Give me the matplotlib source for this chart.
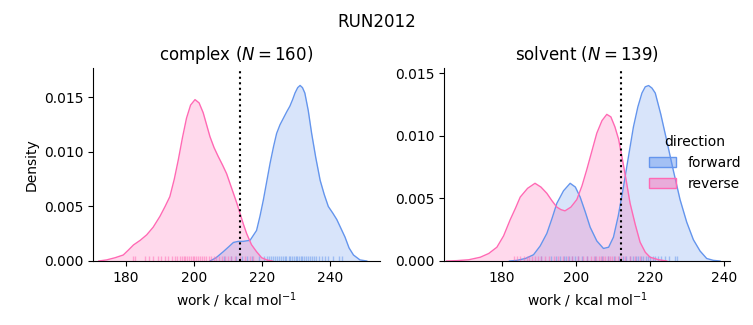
import matplotlib
matplotlib.use("Agg")
import matplotlib.pyplot as plt
from matplotlib.patches import Patch
from matplotlib.colors import to_rgba
from matplotlib.transforms import blended_transform_factory

# ---- data ----
title = "RUN2012"
phases = ["complex", "solvent"]
n_values = [160, 139]
dG_lines = [213.5, 212.2]

# density curves (work, density)
cx_fwd_x = [204.7, 206.5, 208.6, 210.2, 211.6, 213.0, 214.5, 216.5, 218.4, 219.4, 220.4, 221.4, 222.4, 223.4, 224.3, 225.3,
            226.3, 227.3, 228.2, 229.0, 229.7, 230.5, 231.2, 231.9, 232.6, 233.6, 234.6, 235.8, 237.1, 238.3, 239.5, 240.8,
            242.0, 243.2, 244.4, 245.6, 246.9, 248.8, 250.8]
cx_fwd_y = [0.0, 0.0003, 0.00085, 0.0013, 0.0017, 0.0018, 0.0018, 0.0019, 0.0028, 0.0041, 0.0056, 0.0073, 0.0090, 0.0105, 0.0117, 0.0125,
            0.0131, 0.0137, 0.0142, 0.0148, 0.0154, 0.0159, 0.0161, 0.0159, 0.0154, 0.0138, 0.0117, 0.0095, 0.0074, 0.0061, 0.0050, 0.0044,
            0.0038, 0.0030, 0.0022, 0.0012, 0.00055, 0.0001, 0.0]
cx_rev_x = [172.0, 174.3, 176.8, 179.2, 180.7, 182.2, 184.2, 186.1, 188.0, 190.0, 191.5, 192.9, 194.2, 195.4, 196.6, 197.8, 199.0,
            200.3, 201.5, 202.7, 203.7, 204.7, 205.9, 207.1, 208.4, 209.6, 210.6, 211.6, 212.6, 213.5, 214.5, 215.5, 216.9,
            218.4, 219.9, 221.4, 223.0]
cx_rev_y = [0.0, 0.0001, 0.0003, 0.00055, 0.0010, 0.00147, 0.0019, 0.0024, 0.0031, 0.0041, 0.0050, 0.0059, 0.0075, 0.0093, 0.0113, 0.0131, 0.0143,
            0.0148, 0.0145, 0.0136, 0.0125, 0.0114, 0.0104, 0.0096, 0.0088, 0.0080, 0.0071, 0.0062, 0.0053, 0.0044, 0.0034, 0.0025, 0.0015,
            0.00085, 0.0003, 0.0001, 0.0]
sv_fwd_x = [182.0, 184.0, 186.3, 188.5, 190.3, 192.1, 193.5, 194.8, 196.6, 198.4, 199.8, 201.1, 202.5, 203.8, 205.6, 207.4, 208.8,
            210.1, 211.4, 212.8, 214.2, 215.5, 216.7, 217.8, 218.7, 219.6, 220.5, 221.4, 222.9, 224.5, 226.3, 228.1, 229.9,
            231.7, 233.5, 235.3, 237.1, 238.9]
sv_fwd_y = [0.0, 0.00005, 0.0002, 0.0005, 0.0012, 0.0022, 0.0034, 0.0046, 0.0056, 0.0062, 0.0059, 0.0051, 0.0039, 0.0027, 0.0016, 0.0010, 0.0011,
            0.0019, 0.0036, 0.0059, 0.0084, 0.0107, 0.0123, 0.0134, 0.0139, 0.0140, 0.0138, 0.0134, 0.0117, 0.0096, 0.0072, 0.0049, 0.0031,
            0.0017, 0.0008, 0.0002, 0.00005, 0.0]
sv_rev_x = [165.0, 167.8, 171.0, 174.1, 176.4, 178.6, 180.4, 182.2, 183.6, 184.9, 186.9, 188.9, 190.5, 192.1, 193.5, 194.8, 195.9,
            197.0, 198.6, 200.2, 201.6, 202.9, 204.3, 205.6, 207.0, 208.3, 209.4, 210.5, 211.5, 212.4, 213.5, 214.6, 216.0,
            217.3, 218.7, 220.0, 222.3, 224.5]
sv_rev_y = [0.0, 0.00003, 0.0001, 0.0003, 0.0006, 0.0011, 0.0020, 0.0033, 0.0042, 0.0051, 0.0058, 0.0062, 0.0059, 0.0054, 0.0048, 0.0043, 0.0041,
            0.0040, 0.0043, 0.0049, 0.0060, 0.0073, 0.0088, 0.0102, 0.0112, 0.0117, 0.0115, 0.0107, 0.0097, 0.0083, 0.0065, 0.0046, 0.0029,
            0.0015, 0.0007, 0.0003, 0.0001, 0.0]

# rug positions (estimated)
cx_fwd_rug = [208.8, 211.0, 212.3, 214.0, 215.5, 217.2, 219.0, 220.6, 221.4, 222.0, 222.6, 223.1, 223.8, 224.4, 225.0, 225.6,
              226.1, 226.7, 227.2, 227.8, 228.3, 228.9, 229.4, 229.9, 230.4, 230.9, 231.4, 231.9, 232.3, 232.8, 233.4, 234.0,
              234.6, 235.3, 236.0, 236.7, 237.5, 238.4, 239.5, 241.0, 242.5, 243.4]
cx_rev_rug = [182.0, 182.6, 185.6, 186.8, 188.0, 189.3, 190.2, 191.4, 192.5, 193.6, 194.4, 195.1, 195.8, 196.4, 197.0, 197.5,
              198.0, 198.6, 199.1, 199.6, 200.1, 200.6, 201.1, 201.7, 202.3, 202.9, 203.6, 204.3, 205.0, 205.8, 206.6, 207.4,
              208.2, 209.1, 210.0, 210.8, 212.0, 213.6, 215.1, 216.4, 217.4]
sv_fwd_rug = [190.5, 193.2, 194.6, 195.7, 196.6, 197.4, 198.1, 198.9, 199.7, 200.6, 201.7, 203.0, 205.2, 207.0, 208.6, 210.3,
              211.5, 212.6, 213.6, 214.5, 215.3, 216.1, 216.8, 217.5, 218.2, 218.8, 219.4, 220.0, 220.7, 221.4, 222.2, 223.0,
              224.0, 225.0, 226.6, 227.4]
sv_rev_rug = [183.1, 184.0, 184.9, 185.8, 186.6, 187.3, 188.1, 188.8, 189.6, 190.5, 191.5, 192.6, 193.9, 195.2, 196.5, 197.8,
              199.0, 200.5, 201.8, 203.0, 204.0, 204.8, 205.5, 206.1, 206.7, 207.3, 207.9, 208.5, 209.1, 209.7, 210.4, 211.2,
              212.2, 213.3, 214.6, 216.0, 217.3]

x_limits = [(170.3, 254.7), (164.3, 241.6)]
y_limits = [(0, 0.0177), (0, 0.0154)]
x_ticks = [180, 200, 220, 240]
y_ticks = [[0.0, 0.005, 0.010, 0.015], [0.0, 0.005, 0.010, 0.015]]

directions = ["forward", "reverse"]
colors = {"forward": "#6495ED", "reverse": "#FF69B4"}

curves = [
    {"forward": (cx_fwd_x, cx_fwd_y, cx_fwd_rug), "reverse": (cx_rev_x, cx_rev_y, cx_rev_rug)},
    {"forward": (sv_fwd_x, sv_fwd_y, sv_fwd_rug), "reverse": (sv_rev_x, sv_rev_y, sv_rev_rug)},
]

# ---- figure ----
fig = plt.figure(figsize=(7.53, 3.25), dpi=100)
W, H = 753, 325
axes_px = [(93, 68, 380, 261), (444, 68, 730, 261)]
axes = []
for (l, t, r, b) in axes_px:
    axes.append(fig.add_axes([l / W, 1 - b / H, (r - l) / W, (b - t) / H]))

for i, ax in enumerate(axes):
    for d in directions:
        xs, ys, rug = curves[i][d]
        c = colors[d]
        ax.fill_between(xs, ys, 0, color=c, alpha=0.25, linewidth=0)
        ax.plot(xs, ys, color=c, linewidth=1.0)
        trans = blended_transform_factory(ax.transData, ax.transAxes)
        ax.vlines(rug, 0, 0.025, transform=trans, color=c, alpha=0.5, linewidth=1.0)
    ax.axvline(dG_lines[i], color="black", linestyle=":", linewidth=1.5)
    ax.set_xlim(*x_limits[i])
    ax.set_ylim(*y_limits[i])
    ax.set_xticks(x_ticks)
    ax.set_yticks(y_ticks[i])
    ax.set_yticklabels([f"{v:.3f}" for v in y_ticks[i]])
    ax.spines["top"].set_visible(False)
    ax.spines["right"].set_visible(False)
    ax.set_xlabel(r"work / kcal mol$^{-1}$")
    ax.set_title(f"{phases[i]} ($N={n_values[i]}$)", fontsize=12)

axes[0].set_ylabel("Density")

handles = [Patch(facecolor=to_rgba(colors[d], 0.45), edgecolor=colors[d], linewidth=1.0, label=d) for d in directions]
fig.legend(handles=handles, title="direction", frameon=False,
           loc="center left", bbox_to_anchor=(636 / W, 1 - 163 / H))

fig.suptitle(title, fontsize=12, y=1 - 13 / H)

fig.savefig("out.png", dpi=100)
